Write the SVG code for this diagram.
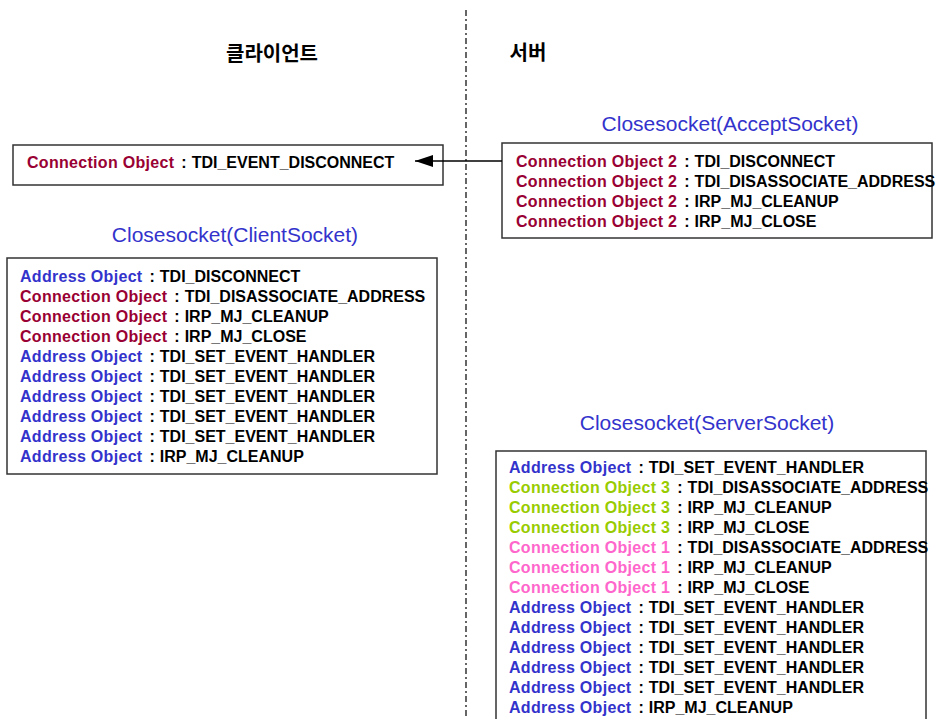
<svg xmlns="http://www.w3.org/2000/svg" width="941" height="719" viewBox="0 0 941 719">
  <style>
    .box { fill: #ffffff; stroke: #333333; stroke-width: 1.5; }
    .row { font-family: "Liberation Sans", Arial, sans-serif; font-size: 16px; font-weight: bold; fill: #000000; }
    .addr { fill: #3333cc; letter-spacing: 0.3px; }
    .conn { fill: #990033; letter-spacing: 0.3px; }
    .conn3 { fill: #99cc00; letter-spacing: 0.3px; }
    .conn1 { fill: #ff66cc; letter-spacing: 0.3px; }
    .title { font-family: "Liberation Sans", Arial, sans-serif; font-size: 21px; fill: #3333cc; text-anchor: middle; }
    .side { font-family: "Noto Sans CJK KR", sans-serif; font-size: 20px; font-weight: bold; fill: #000000; text-anchor: middle; }
  </style>
  <defs>
    <marker id="head" viewBox="0 0 10 10" refX="10" refY="5" markerWidth="18" markerHeight="12" markerUnits="userSpaceOnUse" orient="auto-start-reverse" preserveAspectRatio="none">
      <path d="M0,0 L10,5 L0,10 z" fill="#000000"/>
    </marker>
  </defs>

  <rect width="941" height="719" fill="#ffffff"/>

  <!-- client / server divider -->
  <line x1="466" y1="10" x2="466" y2="719" stroke="#000000" stroke-width="1.2" stroke-dasharray="6 3 2 3"/>
  <text class="side" x="272" y="61">클라이언트</text>
  <text class="side" x="528" y="60">서버</text>

  <!-- client: disconnect event -->
  <g id="client-event">
    <rect class="box" x="13" y="145" width="430" height="40"/>
    <text class="row" x="27" y="168"><tspan class="conn">Connection Object</tspan><tspan dx="7">:</tspan><tspan dx="5">TDI_EVENT_DISCONNECT</tspan></text>
  </g>

  <!-- server: close of accepted socket -->
  <g id="accept-socket">
    <text class="title" x="730" y="131">Closesocket(AcceptSocket)</text>
    <rect class="box" x="502" y="143" width="430" height="95"/>
    <text class="row" x="516" y="167"><tspan class="conn">Connection Object 2</tspan><tspan dx="7">:</tspan><tspan dx="5">TDI_DISCONNECT</tspan></text>
    <text class="row" x="516" y="187"><tspan class="conn">Connection Object 2</tspan><tspan dx="7">:</tspan><tspan dx="5">TDI_DISASSOCIATE_ADDRESS</tspan></text>
    <text class="row" x="516" y="207"><tspan class="conn">Connection Object 2</tspan><tspan dx="7">:</tspan><tspan dx="5">IRP_MJ_CLEANUP</tspan></text>
    <text class="row" x="516" y="227"><tspan class="conn">Connection Object 2</tspan><tspan dx="7">:</tspan><tspan dx="5">IRP_MJ_CLOSE</tspan></text>
  </g>

  <!-- client: close of client socket -->
  <g id="client-socket">
    <text class="title" x="235" y="242">Closesocket(ClientSocket)</text>
    <rect class="box" x="7" y="258" width="430" height="216"/>
    <text class="row" x="20" y="282"><tspan class="addr">Address Object</tspan><tspan dx="7">:</tspan><tspan dx="5">TDI_DISCONNECT</tspan></text>
    <text class="row" x="20" y="302"><tspan class="conn">Connection Object</tspan><tspan dx="7">:</tspan><tspan dx="5">TDI_DISASSOCIATE_ADDRESS</tspan></text>
    <text class="row" x="20" y="322"><tspan class="conn">Connection Object</tspan><tspan dx="7">:</tspan><tspan dx="5">IRP_MJ_CLEANUP</tspan></text>
    <text class="row" x="20" y="342"><tspan class="conn">Connection Object</tspan><tspan dx="7">:</tspan><tspan dx="5">IRP_MJ_CLOSE</tspan></text>
    <text class="row" x="20" y="362"><tspan class="addr">Address Object</tspan><tspan dx="7">:</tspan><tspan dx="5">TDI_SET_EVENT_HANDLER</tspan></text>
    <text class="row" x="20" y="382"><tspan class="addr">Address Object</tspan><tspan dx="7">:</tspan><tspan dx="5">TDI_SET_EVENT_HANDLER</tspan></text>
    <text class="row" x="20" y="402"><tspan class="addr">Address Object</tspan><tspan dx="7">:</tspan><tspan dx="5">TDI_SET_EVENT_HANDLER</tspan></text>
    <text class="row" x="20" y="422"><tspan class="addr">Address Object</tspan><tspan dx="7">:</tspan><tspan dx="5">TDI_SET_EVENT_HANDLER</tspan></text>
    <text class="row" x="20" y="442"><tspan class="addr">Address Object</tspan><tspan dx="7">:</tspan><tspan dx="5">TDI_SET_EVENT_HANDLER</tspan></text>
    <text class="row" x="20" y="462"><tspan class="addr">Address Object</tspan><tspan dx="7">:</tspan><tspan dx="5">IRP_MJ_CLEANUP</tspan></text>
  </g>

  <!-- server: close of listening socket -->
  <g id="server-socket">
    <text class="title" x="707" y="430">Closesocket(ServerSocket)</text>
    <rect class="box" x="496" y="451" width="430" height="280"/>
    <text class="row" x="509" y="473"><tspan class="addr">Address Object</tspan><tspan dx="7">:</tspan><tspan dx="5">TDI_SET_EVENT_HANDLER</tspan></text>
    <text class="row" x="509" y="493"><tspan class="conn3">Connection Object 3</tspan><tspan dx="7">:</tspan><tspan dx="5">TDI_DISASSOCIATE_ADDRESS</tspan></text>
    <text class="row" x="509" y="513"><tspan class="conn3">Connection Object 3</tspan><tspan dx="7">:</tspan><tspan dx="5">IRP_MJ_CLEANUP</tspan></text>
    <text class="row" x="509" y="533"><tspan class="conn3">Connection Object 3</tspan><tspan dx="7">:</tspan><tspan dx="5">IRP_MJ_CLOSE</tspan></text>
    <text class="row" x="509" y="553"><tspan class="conn1">Connection Object 1</tspan><tspan dx="7">:</tspan><tspan dx="5">TDI_DISASSOCIATE_ADDRESS</tspan></text>
    <text class="row" x="509" y="573"><tspan class="conn1">Connection Object 1</tspan><tspan dx="7">:</tspan><tspan dx="5">IRP_MJ_CLEANUP</tspan></text>
    <text class="row" x="509" y="593"><tspan class="conn1">Connection Object 1</tspan><tspan dx="7">:</tspan><tspan dx="5">IRP_MJ_CLOSE</tspan></text>
    <text class="row" x="509" y="613"><tspan class="addr">Address Object</tspan><tspan dx="7">:</tspan><tspan dx="5">TDI_SET_EVENT_HANDLER</tspan></text>
    <text class="row" x="509" y="633"><tspan class="addr">Address Object</tspan><tspan dx="7">:</tspan><tspan dx="5">TDI_SET_EVENT_HANDLER</tspan></text>
    <text class="row" x="509" y="653"><tspan class="addr">Address Object</tspan><tspan dx="7">:</tspan><tspan dx="5">TDI_SET_EVENT_HANDLER</tspan></text>
    <text class="row" x="509" y="673"><tspan class="addr">Address Object</tspan><tspan dx="7">:</tspan><tspan dx="5">TDI_SET_EVENT_HANDLER</tspan></text>
    <text class="row" x="509" y="693"><tspan class="addr">Address Object</tspan><tspan dx="7">:</tspan><tspan dx="5">TDI_SET_EVENT_HANDLER</tspan></text>
    <text class="row" x="509" y="713"><tspan class="addr">Address Object</tspan><tspan dx="7">:</tspan><tspan dx="5">IRP_MJ_CLEANUP</tspan></text>
  </g>

  <!-- connectors (drawn last so the arrowhead sits on top of the client box) -->
  <g id="connectors">
    <line x1="502" y1="161" x2="415" y2="161" stroke="#000000" stroke-width="1.5" marker-end="url(#head)"/>
  </g>
</svg>
